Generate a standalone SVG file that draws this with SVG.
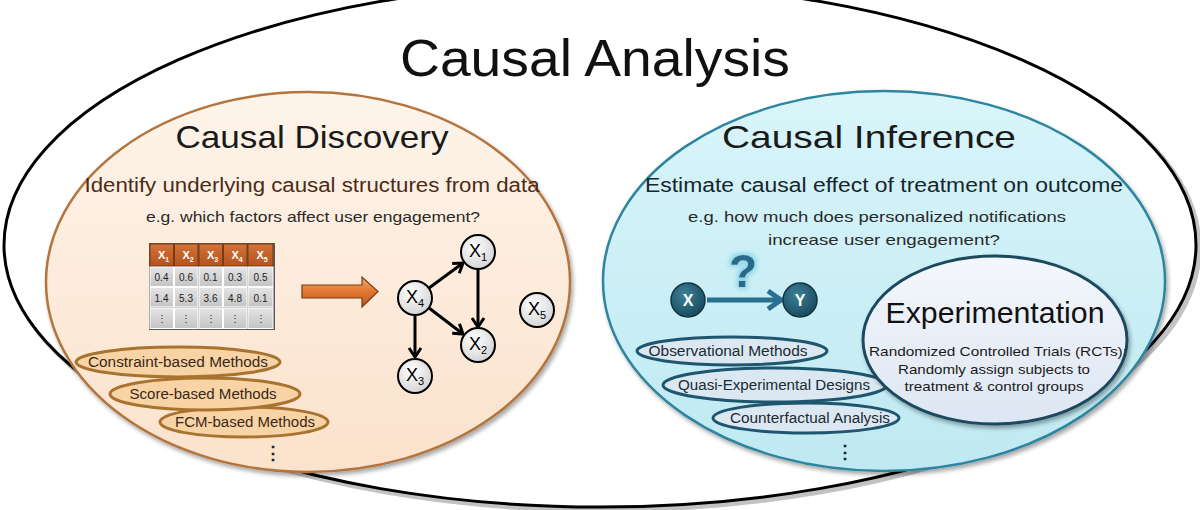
<svg xmlns="http://www.w3.org/2000/svg" width="1200" height="510" viewBox="0 0 1200 510">
<defs>
  <linearGradient id="gPeach" x1="0" y1="0" x2="0" y2="1">
    <stop offset="0" stop-color="#fef4ea"/><stop offset="1" stop-color="#fbe2cc"/>
  </linearGradient>
  <linearGradient id="gCyan" x1="0" y1="0" x2="0" y2="1">
    <stop offset="0" stop-color="#d9f5fa"/><stop offset="1" stop-color="#bfe9f2"/>
  </linearGradient>
  <linearGradient id="gExp" x1="0" y1="0" x2="0" y2="1">
    <stop offset="0" stop-color="#f4f7fc"/><stop offset="1" stop-color="#dde6f3"/>
  </linearGradient>
  <linearGradient id="gHead" x1="0" y1="0" x2="0" y2="1">
    <stop offset="0" stop-color="#d2733a"/><stop offset="1" stop-color="#b4521e"/>
  </linearGradient>
  <linearGradient id="gCell" x1="0" y1="0" x2="0" y2="1">
    <stop offset="0" stop-color="#e4e4e4"/><stop offset="1" stop-color="#c4c4c4"/>
  </linearGradient>
  <linearGradient id="gArrow" x1="0" y1="0" x2="0" y2="1">
    <stop offset="0" stop-color="#f6a66a"/><stop offset="0.5" stop-color="#e0762f"/><stop offset="1" stop-color="#b85a20"/>
  </linearGradient>
  <radialGradient id="gNode" cx="0.4" cy="0.35" r="0.7">
    <stop offset="0" stop-color="#ffffff"/><stop offset="1" stop-color="#d2d2d2"/>
  </radialGradient>
  <radialGradient id="gTeal" cx="0.4" cy="0.35" r="0.7">
    <stop offset="0" stop-color="#3f7f96"/><stop offset="1" stop-color="#174a5d"/>
  </radialGradient>
  <filter id="shadow" x="-10%" y="-10%" width="120%" height="130%">
    <feGaussianBlur in="SourceAlpha" stdDeviation="2"/>
    <feOffset dx="2" dy="3" result="o"/>
    <feComponentTransfer><feFuncA type="linear" slope="0.35"/></feComponentTransfer>
    <feMerge><feMergeNode/><feMergeNode in="SourceGraphic"/></feMerge>
  </filter>
  <filter id="glow" x="-50%" y="-50%" width="200%" height="200%">
    <feMorphology in="SourceAlpha" operator="dilate" radius="2" result="d"/>
    <feGaussianBlur in="d" stdDeviation="2.5" result="b"/>
    <feFlood flood-color="#8fd3e8"/>
    <feComposite in2="b" operator="in"/>
    <feMerge><feMergeNode/><feMergeNode in="SourceGraphic"/></feMerge>
  </filter>
  <marker id="mBlack" markerUnits="userSpaceOnUse" markerWidth="16" markerHeight="16" refX="12" refY="8" orient="auto">
    <path d="M3,2 L12,8 L3,14" fill="none" stroke="#000" stroke-width="3" stroke-linejoin="miter"/>
  </marker>
  <marker id="mTeal" markerUnits="userSpaceOnUse" markerWidth="20" markerHeight="22" refX="16" refY="11" orient="auto">
    <path d="M3,2 L16,11 L3,20" fill="none" stroke="#2a7090" stroke-width="5"/>
  </marker>
</defs>
<style>
  text { font-family: "Liberation Sans", "Noto Sans", Arial, sans-serif; }
  .title { font-size: 52px; fill: #111; }
  .head { font-size: 32px; fill: #1a1a1a; }
  .subL { font-size: 20px; fill: #4a2c18; }
  .subR { font-size: 20px; fill: #16262e; }
  .eg { font-size: 15px; fill: #2a2a2a; }
  .mL { fill: #f8d3a6; stroke: #a8732f; stroke-width: 3; }
  .mR { fill: #dce8f1; stroke: #1e5670; stroke-width: 3; }
  .mtxtL { font-size: 14px; fill: #3a2816; }
  .mtxtR { font-size: 14px; fill: #1b2a33; }
  .hdr { fill: url(#gHead); stroke: #7a3a12; stroke-width: 1; }
  .cell { fill: url(#gCell); stroke: #ffffff; stroke-width: 1; }
  .hx { font-size: 11px; fill: #ffffff; font-weight: bold; }
  .cx { font-size: 10px; fill: #222; }
  .gnode { fill: url(#gNode); stroke: #000; stroke-width: 2; }
  .glab { font-size: 18px; fill: #000; }
  .edge { stroke: #000; stroke-width: 3; fill: none; marker-end: url(#mBlack); }
  .tnode { fill: url(#gTeal); stroke: #0f3445; stroke-width: 1.5; }
  .tlab { font-size: 16px; font-weight: bold; fill: #fff; }
  .exptxt { font-size: 13.5px; fill: #1a1a1a; }
  .dots { font-size: 18px; fill: #222; font-weight: bold; }
</style>

<!-- outer ellipse -->
<g id="causal-analysis">
  <ellipse cx="603" cy="248" rx="596" ry="262" fill="none" stroke="#9a9a9a" stroke-width="5" opacity="0.6"/>
  <ellipse cx="600" cy="245" rx="596" ry="262" fill="#ffffff" stroke="#000" stroke-width="3"/>
  <text class="title" x="595" y="76" text-anchor="middle" textLength="390" lengthAdjust="spacingAndGlyphs">Causal Analysis</text>
</g>

<!-- Causal Discovery -->
<g id="causal-discovery">
  <ellipse cx="308" cy="282" rx="262" ry="190" fill="url(#gPeach)" stroke="#b3753d" stroke-width="2.5" filter="url(#shadow)"/>
  <text class="head" x="312" y="148" text-anchor="middle" textLength="273" lengthAdjust="spacingAndGlyphs">Causal Discovery</text>
  <text class="subL" x="312" y="192" text-anchor="middle" textLength="455" lengthAdjust="spacingAndGlyphs">Identify underlying causal structures from data</text>
  <text class="eg" x="313" y="222" text-anchor="middle" textLength="334" lengthAdjust="spacingAndGlyphs">e.g. which factors affect user engagement?</text>
</g>

<!-- data table -->
<g id="data-table">
  <rect x="149" y="243" width="126" height="87" fill="#5a5a5a"/>
  <g>
    <rect class="hdr" x="150" y="244" width="23.5" height="22"/>
    <rect class="hdr" x="174.5" y="244" width="23.5" height="22"/>
    <rect class="hdr" x="199" y="244" width="23.5" height="22"/>
    <rect class="hdr" x="223.5" y="244" width="23.5" height="22"/>
    <rect class="hdr" x="248" y="244" width="25" height="22"/>
  </g>
  <g>
    <text class="hx" x="158" y="259">X<tspan font-size="7" dy="3">1</tspan></text>
    <text class="hx" x="182.5" y="259">X<tspan font-size="7" dy="3">2</tspan></text>
    <text class="hx" x="207" y="259">X<tspan font-size="7" dy="3">3</tspan></text>
    <text class="hx" x="231.5" y="259">X<tspan font-size="7" dy="3">4</tspan></text>
    <text class="hx" x="256.5" y="259">X<tspan font-size="7" dy="3">5</tspan></text>
  </g>
  <g>
    <rect class="cell" x="150" y="267" width="23.5" height="19.5"/>
    <rect class="cell" x="174.5" y="267" width="23.5" height="19.5"/>
    <rect class="cell" x="199" y="267" width="23.5" height="19.5"/>
    <rect class="cell" x="223.5" y="267" width="23.5" height="19.5"/>
    <rect class="cell" x="248" y="267" width="25" height="19.5"/>
    <rect class="cell" x="150" y="287.5" width="23.5" height="19.5"/>
    <rect class="cell" x="174.5" y="287.5" width="23.5" height="19.5"/>
    <rect class="cell" x="199" y="287.5" width="23.5" height="19.5"/>
    <rect class="cell" x="223.5" y="287.5" width="23.5" height="19.5"/>
    <rect class="cell" x="248" y="287.5" width="25" height="19.5"/>
    <rect class="cell" x="150" y="308" width="23.5" height="20.5"/>
    <rect class="cell" x="174.5" y="308" width="23.5" height="20.5"/>
    <rect class="cell" x="199" y="308" width="23.5" height="20.5"/>
    <rect class="cell" x="223.5" y="308" width="23.5" height="20.5"/>
    <rect class="cell" x="248" y="308" width="25" height="20.5"/>
  </g>
  <g text-anchor="middle">
    <text class="cx" x="161.5" y="281">0.4</text>
    <text class="cx" x="186" y="281">0.6</text>
    <text class="cx" x="210.5" y="281">0.1</text>
    <text class="cx" x="235" y="281">0.3</text>
    <text class="cx" x="260.5" y="281">0.5</text>
    <text class="cx" x="161.5" y="301.5">1.4</text>
    <text class="cx" x="186" y="301.5">5.3</text>
    <text class="cx" x="210.5" y="301.5">3.6</text>
    <text class="cx" x="235" y="301.5">4.8</text>
    <text class="cx" x="260.5" y="301.5">0.1</text>
    <text class="cx" x="161.5" y="322">⋮</text>
    <text class="cx" x="186" y="322">⋮</text>
    <text class="cx" x="210.5" y="322">⋮</text>
    <text class="cx" x="235" y="322">⋮</text>
    <text class="cx" x="260.5" y="322">⋮</text>
  </g>
</g>

<!-- orange arrow -->
<g id="transform-arrow">
  <path d="M302,285 L362,285 L362,277 L378,291.5 L362,307 L362,298 L302,298 Z" fill="url(#gArrow)" stroke="#7a3a12" stroke-width="1.2"/>
</g>

<!-- graph connectors -->
<g id="graph-edges">
  <line class="edge" x1="429" y1="288" x2="463" y2="263"/>
  <line class="edge" x1="478" y1="270" x2="478" y2="327"/>
  <line class="edge" x1="429" y1="308" x2="463" y2="334"/>
  <line class="edge" x1="415" y1="316" x2="415" y2="357"/>
</g>

<!-- graph nodes -->
<g id="node-x1"><circle class="gnode" cx="478" cy="252" r="17"/><text class="glab" x="478" y="257" text-anchor="middle">X<tspan font-size="11" dy="4">1</tspan></text></g>
<g id="node-x4"><circle class="gnode" cx="415" cy="298" r="17"/><text class="glab" x="415" y="303" text-anchor="middle">X<tspan font-size="11" dy="4">4</tspan></text></g>
<g id="node-x2"><circle class="gnode" cx="478" cy="345" r="17"/><text class="glab" x="478" y="350" text-anchor="middle">X<tspan font-size="11" dy="4">2</tspan></text></g>
<g id="node-x3"><circle class="gnode" cx="415" cy="376" r="17"/><text class="glab" x="415" y="381" text-anchor="middle">X<tspan font-size="11" dy="4">3</tspan></text></g>
<g id="node-x5"><circle class="gnode" cx="537" cy="310" r="17"/><text class="glab" x="537" y="315" text-anchor="middle">X<tspan font-size="11" dy="4">5</tspan></text></g>

<!-- discovery methods -->
<g id="fcm-based">
  <ellipse class="mL" cx="244" cy="422" rx="84" ry="15"/>
  <text class="mtxtL" x="245" y="427" text-anchor="middle" textLength="140" lengthAdjust="spacingAndGlyphs">FCM-based Methods</text>
</g>
<g id="score-based">
  <ellipse class="mL" cx="205" cy="394" rx="95" ry="16"/>
  <text class="mtxtL" x="203" y="399" text-anchor="middle" textLength="147" lengthAdjust="spacingAndGlyphs">Score-based Methods</text>
</g>
<g id="constraint-based">
  <ellipse class="mL" cx="178" cy="362" rx="102" ry="15"/>
  <text class="mtxtL" x="178" y="367" text-anchor="middle" textLength="180" lengthAdjust="spacingAndGlyphs">Constraint-based Methods</text>
</g>
<text class="dots" x="273" y="459" text-anchor="middle">⋮</text>

<!-- Causal Inference -->
<g id="causal-inference">
  <ellipse cx="884" cy="281" rx="281" ry="190" fill="url(#gCyan)" stroke="#2e859f" stroke-width="2.5" filter="url(#shadow)"/>
  <text class="head" x="869" y="148" text-anchor="middle" textLength="294" lengthAdjust="spacingAndGlyphs">Causal Inference</text>
  <text class="subR" x="884" y="192" text-anchor="middle" textLength="478" lengthAdjust="spacingAndGlyphs">Estimate causal effect of treatment on outcome</text>
  <text class="eg" x="877" y="222" text-anchor="middle" textLength="378" lengthAdjust="spacingAndGlyphs">e.g. how much does personalized notifications</text>
  <text class="eg" x="884" y="245" text-anchor="middle" textLength="232" lengthAdjust="spacingAndGlyphs">increase user engagement?</text>
</g>

<!-- X -> Y -->
<g id="xy-edge">
  <line x1="707" y1="300" x2="781" y2="300" stroke="#2a7090" stroke-width="5" marker-end="url(#mTeal)"/>
</g>
<text x="743" y="287" text-anchor="middle" font-size="46" font-weight="bold" fill="#2a6a88" filter="url(#glow)">?</text>
<g id="node-x"><circle class="tnode" cx="688" cy="300" r="17"/><text class="tlab" x="688" y="306" text-anchor="middle">X</text></g>
<g id="node-y"><circle class="tnode" cx="800" cy="300" r="17"/><text class="tlab" x="800" y="306" text-anchor="middle">Y</text></g>

<!-- inference methods -->
<g id="counterfactual">
  <ellipse class="mR" cx="806" cy="418" rx="93" ry="15"/>
  <text class="mtxtR" x="810" y="423" text-anchor="middle" textLength="160" lengthAdjust="spacingAndGlyphs">Counterfactual Analysis</text>
</g>
<g id="quasi-experimental">
  <ellipse class="mR" cx="775" cy="385" rx="112" ry="17"/>
  <text class="mtxtR" x="774" y="390" text-anchor="middle" textLength="192" lengthAdjust="spacingAndGlyphs">Quasi-Experimental Designs</text>
</g>
<g id="observational">
  <ellipse class="mR" cx="732" cy="351" rx="95" ry="14"/>
  <text class="mtxtR" x="728" y="356" text-anchor="middle" textLength="159" lengthAdjust="spacingAndGlyphs">Observational Methods</text>
</g>
<text class="dots" x="845" y="458" text-anchor="middle">⋮</text>

<!-- Experimentation -->
<g id="experimentation">
  <ellipse cx="995" cy="340" rx="132" ry="84" fill="url(#gExp)" stroke="#1c4a5e" stroke-width="3" filter="url(#shadow)"/>
  <text x="995" y="323" text-anchor="middle" font-size="29" fill="#111" textLength="219" lengthAdjust="spacingAndGlyphs">Experimentation</text>
  <text class="exptxt" x="998" y="356" text-anchor="middle" textLength="258" lengthAdjust="spacingAndGlyphs">Randomized Controlled Trials (RCTs):</text>
  <text class="exptxt" x="994" y="374" text-anchor="middle" textLength="192" lengthAdjust="spacingAndGlyphs">Randomly assign subjects to</text>
  <text class="exptxt" x="994" y="391" text-anchor="middle" textLength="179" lengthAdjust="spacingAndGlyphs">treatment &amp; control groups</text>
</g>
</svg>
